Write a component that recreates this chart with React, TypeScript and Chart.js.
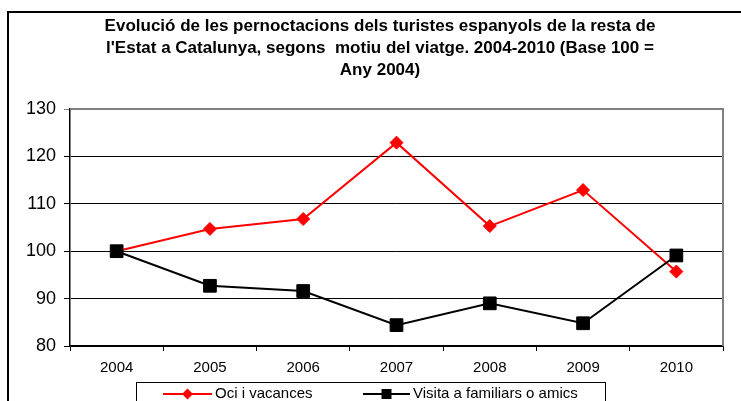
import { useEffect, useRef } from 'react';
import { Chart, registerables } from 'chart.js';

Chart.register(...registerables);

const titleLines = [
  'Evolució de les pernoctacions dels turistes espanyols de la resta de',
  "l'Estat a Catalunya, segons  motiu del viatge. 2004-2010 (Base 100 =",
  'Any 2004)',
];
const years = ['2004', '2005', '2006', '2007', '2008', '2009', '2010'];
const ociVacances = [100, 104.7, 106.8, 122.9, 105.3, 112.9, 95.7];
const visitaFamiliars = [100, 92.7, 91.6, 84.4, 89.0, 84.8, 99.1];
const yMin = 80;
const yMax = 130;
const yStep = 10;
const seriesNames = ['Oci i vacances', 'Visita a familiars o amics'];

const FONT = '"Liberation Sans", Arial, sans-serif';

const framePlugin = {
  id: 'frame',
  afterDraw(chart: any) {
    const ctx = chart.ctx;
    const a = chart.chartArea;
    ctx.save();
    // outer chart border
    ctx.strokeStyle = '#000';
    ctx.lineWidth = 2;
    ctx.beginPath();
    ctx.moveTo(8, 401);
    ctx.lineTo(8, 12);
    ctx.lineTo(741, 12);
    ctx.stroke();
    // plot area top/right border
    ctx.strokeStyle = '#808080';
    ctx.lineWidth = 2;
    ctx.beginPath();
    ctx.moveTo(a.left, a.top);
    ctx.lineTo(a.right, a.top);
    ctx.lineTo(a.right, a.bottom);
    ctx.stroke();
    // title
    ctx.fillStyle = '#000';
    ctx.font = `bold 17px ${FONT}`;
    ctx.textAlign = 'center';
    ctx.textBaseline = 'middle';
    const ys = [26.5, 48.3, 70];
    titleLines.forEach((t, i) => ctx.fillText(t, 380, ys[i]));
    // legend
    ctx.strokeStyle = '#000';
    ctx.lineWidth = 1;
    ctx.strokeRect(136.5, 382.5, 469, 40);
    const ly = 394;
    const items = [
      { x0: 163, x1: 212, tx: 215 },
      { x0: 363, x1: 410, tx: 413 },
    ];
    chart.data.datasets.forEach((ds: any, i: number) => {
      const it = items[i];
      ctx.strokeStyle = ds.borderColor;
      ctx.lineWidth = 2;
      ctx.beginPath();
      ctx.moveTo(it.x0, ly);
      ctx.lineTo(it.x1, ly);
      ctx.stroke();
      const cx = (it.x0 + it.x1) / 2;
      ctx.fillStyle = ds.pointBackgroundColor;
      ctx.beginPath();
      if (ds.pointStyle === 'rectRot') {
        const r = 5.5;
        ctx.moveTo(cx, ly - r);
        ctx.lineTo(cx + r, ly);
        ctx.lineTo(cx, ly + r);
        ctx.lineTo(cx - r, ly);
        ctx.closePath();
      } else {
        ctx.rect(cx - 5, ly - 5, 10, 10);
      }
      ctx.fill();
      ctx.fillStyle = '#000';
      ctx.font = `15px ${FONT}`;
      ctx.textAlign = 'left';
      ctx.textBaseline = 'middle';
      ctx.fillText(ds.label, it.tx, ly);
    });
    ctx.restore();
  },
};

export default function App() {
  const ref = useRef<HTMLCanvasElement>(null);
  useEffect(() => {
    if (!ref.current) return;
    const chart = new Chart(ref.current, {
      type: 'line',
      data: {
        labels: years,
        datasets: [
          {
            label: seriesNames[0],
            data: ociVacances,
            order: 1,
            borderColor: '#ff0000',
            backgroundColor: '#ff0000',
            pointBackgroundColor: '#ff0000',
            pointBorderColor: '#ff0000',
            pointStyle: 'rectRot',
            pointRadius: 6.5,
            pointBorderWidth: 1,
            borderWidth: 2,
            tension: 0,
          },
          {
            label: seriesNames[1],
            data: visitaFamiliars,
            order: 0,
            borderColor: '#000000',
            backgroundColor: '#000000',
            pointBackgroundColor: '#000000',
            pointBorderColor: '#000000',
            pointStyle: 'rect',
            pointRadius: 9,
            pointBorderWidth: 1,
            borderWidth: 2,
            tension: 0,
          },
        ],
      },
      options: {
        animation: false,
        responsive: false,
        maintainAspectRatio: false,
        devicePixelRatio: 1,
        layout: { padding: { left: 0, right: 18, top: 109, bottom: 0 } },
        plugins: {
          legend: { display: false },
          title: { display: false },
          tooltip: { enabled: false },
        },
        scales: {
          x: {
            type: 'category',
            offset: true,
            grid: {
              offset: true,
              drawOnChartArea: false,
              drawTicks: true,
              tickLength: 5,
              color: '#000',
            },
            border: { color: '#000', width: 1.5 },
            ticks: {
              color: '#000',
              font: { family: FONT, size: 15 },
              padding: 8,
              maxRotation: 0,
            },
            afterFit(scale: any) {
              scale.height = 55;
            },
          },
          y: {
            min: yMin,
            max: yMax,
            grid: {
              color: (c: any) => (c.tick && c.tick.value === yMax ? '#808080' : '#000'),
              lineWidth: 1,
              drawTicks: true,
              tickLength: 6,
            },
            border: { color: '#000', width: 1.5 },
            ticks: {
              stepSize: yStep,
              color: '#000',
              font: { family: FONT, size: 18 },
              padding: 8,
            },
            afterFit(scale: any) {
              scale.width = 70;
            },
          },
        },
      },
      plugins: [framePlugin],
    });
    return () => chart.destroy();
  }, []);
  return (
    <div style={{ position: 'fixed', left: 0, top: 0, width: 741, height: 401, background: '#fff' }}>
      <canvas ref={ref} width={741} height={401} style={{ width: 741, height: 401, display: 'block' }} />
    </div>
  );
}
